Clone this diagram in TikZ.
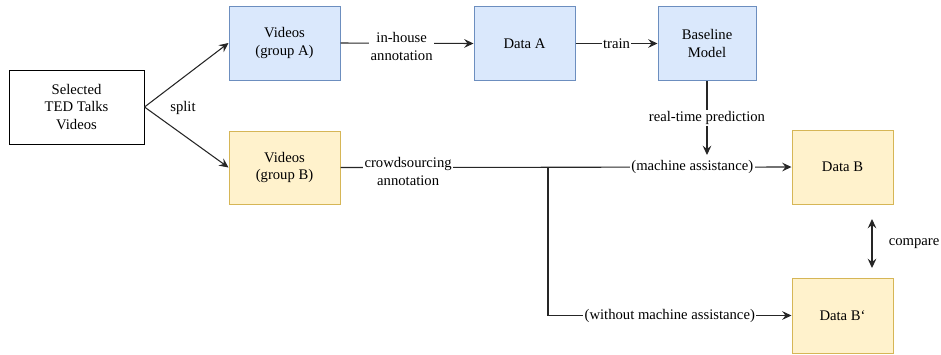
\documentclass[tikz,border=0pt]{standalone}
\usepackage{fontspec}
\setmainfont{Liberation Serif}
\usetikzlibrary{arrows.meta}
\definecolor{bluefill}{HTML}{DAE8FC}
\definecolor{blueline}{HTML}{6C8EBF}
\definecolor{yellowfill}{HTML}{FFF2CC}
\definecolor{yellowline}{HTML}{D6B656}
\tikzset{
  box/.style={draw, line width=0.75pt, align=center, inner sep=2pt,
    font=\fontsize{11}{13}\selectfont},
  bluebox/.style={box, fill=bluefill, draw=blueline},
  yellowbox/.style={box, fill=yellowfill, draw=yellowline},
  conn/.style={line width=0.8pt, draw=black!85},
  arr/.style={conn, -{Stealth[length=7pt,width=6.5pt,inset=2.5pt]}},
  darr/.style={conn, {Stealth[length=7pt,width=6.5pt,inset=2.5pt]}-{Stealth[length=7pt,width=6.5pt,inset=2.5pt]}},
  lbl/.style={fill=white, inner sep=1pt, align=center,
    font=\fontsize{11}{13}\selectfont},
  txt/.style={inner sep=1pt, align=center, font=\fontsize{11}{13}\selectfont}
}
\begin{document}
\begin{tikzpicture}[x=0.75pt,y=-0.75pt]
  \useasboundingbox (0,0) rectangle (941,354);

  % boxes
  \node[box, minimum width=101.25pt, minimum height=55.5pt] (sel) at (76.5,107) {Selected\\TED Talks\\Videos};
  \node[bluebox, minimum width=83.25pt, minimum height=55.5pt] (va) at (284.5,43) {Videos\\(group A)};
  \node[yellowbox, minimum width=83.25pt, minimum height=54.75pt] (vb) at (284.5,167.5) {Videos\\(group B)};
  \node[bluebox, minimum width=75.75pt, minimum height=55.5pt] (da) at (524.5,43.5) {Data A};
  \node[bluebox, minimum width=73.5pt, minimum height=55.5pt] (bm) at (707,43.5) {Baseline\\Model};
  \node[yellowbox, minimum width=75.75pt, minimum height=55.5pt] (db) at (842.5,167) {Data B};
  \node[yellowbox, minimum width=75.75pt, minimum height=56.25pt] (dbp) at (842.5,315.5) {Data B\symbol{96}};

  % split into two groups
  \draw[arr] (sel.east) -- (va.west);
  \draw[arr] (sel.east) -- (vb.west);
  \node[txt] (split) at (183,108) {split};

  % group A pipeline
  \draw[arr] (va.east) -- node[lbl, pos=0.46, yshift=-2.5pt] {in-house\\annotation} (da.west);
  \draw[arr] (da.east) -- node[lbl] {train} (bm.west);

  % model assistance
  \coordinate (pred) at (707,155);
  \draw[arr] (bm.south) -- node[lbl] {real-time prediction} (pred);

  % group B pipeline
  \coordinate (j) at (548,167);
  \draw[arr] (vb.east) -- node[lbl, pos=0.15, yshift=-3pt] {crowdsourcing\\annotation}
    node[lbl, pos=0.78] {(machine assistance)} (db.west);
  \draw[arr] (j) |- node[lbl, pos=0.75] {(without machine assistance)} (dbp.west);

  % comparison
  \coordinate (c1) at (872,219);
  \coordinate (c2) at (872,268);
  \draw[darr] (c1) -- (c2);
  \node[txt] (cmp) at (914,244) {compare};
\end{tikzpicture}
\end{document}
